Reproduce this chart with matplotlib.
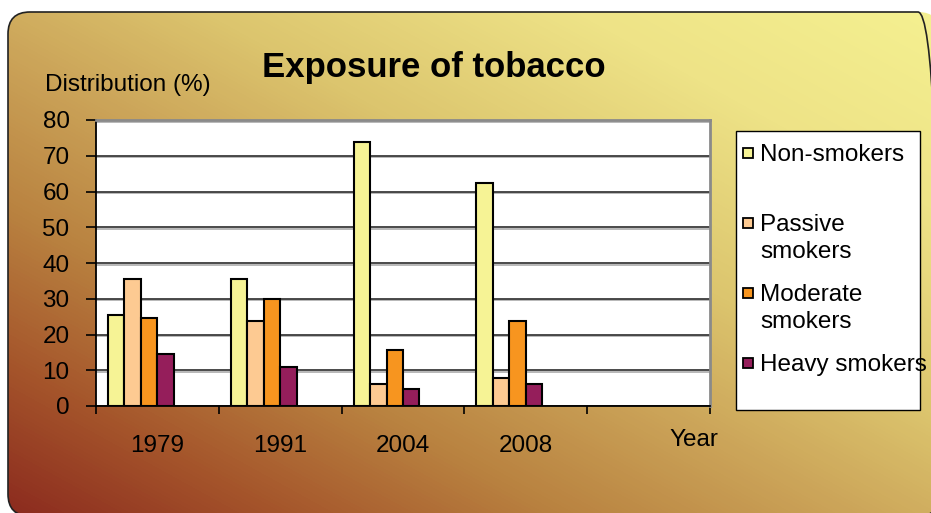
import numpy as np
import matplotlib.pyplot as plt
import matplotlib.patheffects as pe
from matplotlib.colors import LinearSegmentedColormap
from matplotlib.patches import FancyBboxPatch, Rectangle

plt.rcParams['font.family'] = ['Liberation Sans', 'DejaVu Sans']

# data
years = ['1979', '1991', '2004', '2008']
series = ['Non-smokers', 'Passive smokers', 'Moderate smokers', 'Heavy smokers']
legend_labels = ['Non-smokers', 'Passive\nsmokers', 'Moderate\nsmokers', 'Heavy smokers']
non_smokers = [25.5, 35.4, 73.8, 62.4]
passive = [35.4, 23.9, 6.1, 7.7]
moderate = [24.7, 29.8, 15.6, 23.9]
heavy = [14.5, 10.8, 4.8, 6.1]
colors = ['#F6F395', '#FDCA92', '#F7951F', '#951E5B']

W, H = 931, 513
fig = plt.figure(figsize=(W / 100, H / 100), dpi=100)
fig.patch.set_facecolor('white')


def py(y):
    # pixel row from top -> data y from bottom
    return H - y


# background panel with diagonal gradient
bg = fig.add_axes([0, 0, 1, 1])
bg.axis('off')
yy, xx = np.mgrid[0:H, 0:W]
t = (xx / W + (1 - yy / H)) / 2
cmap = LinearSegmentedColormap.from_list('bg', [
    (0.0, '#8B2A1E'), (0.15, '#A5552B'), (0.3, '#B98240'),
    (0.45, '#CBA358'), (0.6, '#DCC56E'), (0.8, '#EEE387'), (1.0, '#F5F191')])
im = bg.imshow(t, cmap=cmap, vmin=0, vmax=1, extent=(0, W, 0, H), origin='upper',
               aspect='auto', interpolation='bilinear')
box = FancyBboxPatch((8, py(516)), 932, 504, boxstyle='round,pad=0,rounding_size=22',
                     fc='none', ec='#222222', lw=1.2)
bg.add_patch(box)
im.set_clip_path(box)

bg.text(434, py(67), 'Exposure of tobacco', fontsize=25, fontweight='bold',
        ha='center', va='center')
bg.text(45, py(85), 'Distribution (%)', fontsize=17.5, ha='left', va='center')
bg.text(694, py(440), 'Year', fontsize=17.5, ha='center', va='center')

# legend box
bg.add_patch(Rectangle((736, py(410)), 184, 279, fc='white', ec='black', lw=1))
for i, (lab, c) in enumerate(zip(legend_labels, colors)):
    y = 153 + 70 * i
    bg.add_patch(Rectangle((743, py(y + 5)), 10, 10, fc=c, ec='black', lw=1.3))
    bg.text(760, py(y - 9), lab, fontsize=17.5, ha='left', va='top', linespacing=1.3)

bg.set_autoscale_on(False)
bg.set_xlim(0, W)
bg.set_ylim(0, H)

# plot area
ax = fig.add_axes([96 / W, 1 - 406 / H, 614 / W, 286 / H])
x = np.arange(len(years))
w = 0.134
for k, (vals, c) in enumerate(zip([non_smokers, passive, moderate, heavy], colors)):
    ax.bar(x + (k - 2.5) * w, vals, w, color=c, edgecolor='black', lw=1.5,
           zorder=3, label=series[k])

ax.set_xlim(-0.5, 4.5)
ax.set_ylim(0, 80)
ax.set_yticks(range(0, 81, 10))
ax.yaxis.grid(True, color='#3c3c3c', lw=1.3,
              path_effects=[pe.SimpleLineShadow(offset=(0, -1.2), shadow_color='gray', alpha=0.6),
                            pe.Normal()])
ax.set_axisbelow(True)
ax.tick_params(axis='y', length=7, width=1.2, labelsize=17.5, pad=12)

ax.set_xticks(np.arange(-0.5, 5, 1))
ax.set_xticklabels([])
ax.tick_params(axis='x', which='major', length=6, width=1.2)
ax.set_xticks(x, years, minor=True)
ax.tick_params(axis='x', which='minor', length=0, pad=21, labelsize=17.5)

for s in ['left', 'bottom']:
    ax.spines[s].set_color('black')
    ax.spines[s].set_linewidth(1.3)
for s in ['top', 'right']:
    ax.spines[s].set_color('#8a8a8a')
    ax.spines[s].set_linewidth(2)

fig.savefig('out.png', dpi=100)
